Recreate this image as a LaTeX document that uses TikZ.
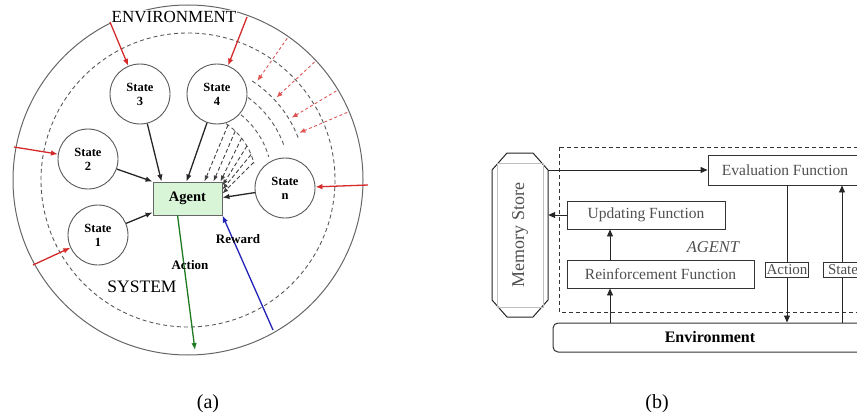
\documentclass[tikz,border=0pt]{standalone}
\usepackage{fontspec}
\setmainfont{Liberation Serif}
\usetikzlibrary{arrows.meta,calc}

\definecolor{envred}{HTML}{D42A2A}
\definecolor{actgreen}{HTML}{1E7A22}
\definecolor{rewblue}{HTML}{2222B8}
\definecolor{agentfill}{HTML}{D8F5D8}
\definecolor{boxtext}{HTML}{505050}

\tikzset{
  statenode/.style={circle, draw=black!65, line width=0.9pt, minimum size=60pt,
    inner sep=0pt, align=center, fill=white,
    font=\fontsize{12.5}{14}\selectfont\bfseries},
  agentbox/.style={draw=black!60, line width=0.9pt, fill=agentfill,
    minimum width=69pt, minimum height=33pt, inner sep=0pt,
    font=\fontsize{14.5}{16}\selectfont\bfseries},
  arr/.style={-{Latex[length=7pt,width=5.5pt]}, line width=1.3pt, black!85},
  redarr/.style={-{Latex[length=7pt,width=5.5pt]}, line width=1.3pt, envred},
  reddash/.style={-{Latex[length=6pt,width=5pt]}, line width=0.9pt, envred!80,
    dash pattern=on 3pt off 2.5pt},
  spoke/.style={-{Latex[length=6pt,width=4.5pt]}, line width=0.9pt, black!75,
    dash pattern=on 4pt off 2.5pt},
  ringdash/.style={line width=0.9pt, black!65, dash pattern=on 4pt off 3pt},
  lbl/.style={font=\fontsize{13}{15}\selectfont\bfseries, inner sep=0pt},
  fbox/.style={draw=black!80, line width=0.9pt, fill=white, inner sep=0pt,
    text=boxtext, font=\fontsize{15.5}{17}\selectfont},
  tagbox/.style={draw=black!80, line width=0.9pt, fill=white, inner sep=1pt,
    minimum height=15pt, text=boxtext, font=\fontsize{15}{16}\selectfont},
  barr/.style={-{Triangle[length=7pt,width=6pt]}, line width=0.9pt, black!85},
  caption/.style={font=\fontsize{20}{22}\selectfont, inner sep=0pt}
}

\begin{document}
\begin{tikzpicture}[x=1pt,y=-1pt]
\useasboundingbox (0,0) rectangle (857,420);
\clip (0,0) rectangle (857,420);

% ---------------- left: system inside its environment ----------------
\coordinate (O) at (188,180);
\draw[black!60, line width=1pt] (O) circle[radius=175];
\draw[ringdash] (O) circle[radius=147];

% partial rings between State 4 and State n
\draw[ringdash] ($(O)+(-57:118)$) arc[start angle=-57, end angle=-21, radius=118];
\draw[ringdash] ($(O)+(-54:102)$) arc[start angle=-54, end angle=-19, radius=102];
\draw[ringdash] ($(O)+(-51:84)$) arc[start angle=-51, end angle=-16, radius=84];
\draw[ringdash] ($(O)+(-56:68)$) arc[start angle=-56, end angle=-14, radius=68];

\node[font=\fontsize{17}{19}\selectfont, fill=white, inner sep=1pt] (envlabel) at (174,17) {ENVIRONMENT};
\node[font=\fontsize{17.5}{19}\selectfont, inner sep=0pt] (syslabel) at (142,287) {SYSTEM};

\node[statenode] (s3) at (140,94) {State\\3};
\node[statenode] (s4) at (217,94) {State\\4};
\node[statenode] (s2) at (88,159) {State\\2};
\node[statenode] (s1) at (98,235) {State\\1};
\node[statenode] (sn) at (285,188) {State\\n};
\node[agentbox] (agent) at (187.5,198.5) {Agent};

% states feeding the agent
\draw[arr] (s3) -- ([xshift=9pt]agent.north west);
\draw[arr] (s4) -- ([xshift=34pt]agent.north west);
\draw[arr] (s2) -- (agent.north west);
\draw[arr] (s1) -- ([yshift=3pt]agent.south west);
\draw[arr] (sn) -- ([yshift=-16pt]agent.north east);

% dashed fan of further states
\coordinate (f1) at ($(O)+(-54:68)$);
\coordinate (f2) at ($(O)+(-46:68)$);
\coordinate (f3) at ($(O)+(-38:68)$);
\coordinate (f4) at ($(O)+(-30:68)$);
\coordinate (f5) at ($(O)+(-22:68)$);
\coordinate (f6) at ($(O)+(-15:68)$);
\draw[spoke] (f1) -- ([xshift=-18pt]agent.north east);
\draw[spoke] (f2) -- ([xshift=-9pt]agent.north east);
\draw[spoke] (f3) -- ([xshift=-2pt]agent.north east);
\draw[spoke] (f4) -- ([yshift=-4pt]agent.north east);
\draw[spoke] (f5) -- ([yshift=-8pt]agent.north east);
\draw[spoke] (f6) -- ([yshift=-12pt]agent.north east);

% environment influences
\coordinate (e3) at (110,22);
\coordinate (e4) at (247,17);
\coordinate (e2) at (14,147);
\coordinate (e1) at (33,265);
\coordinate (en) at (368,185);
\draw[redarr] (e3) -- (s3);
\draw[redarr] (e4) -- (s4);
\draw[redarr] (e2) -- (s2);
\draw[redarr] (e1) -- (s1);
\draw[redarr] (en) -- (sn);
\foreach \a [count=\i] in {-55,-43,-31,-23}{
  \coordinate (ra\i) at ($(O)+(\a:173)$);
  \coordinate (rb\i) at ($(O)+(\a:121)$);
  \draw[reddash] (ra\i) -- (rb\i);
}

% action and reward
\coordinate (actend) at (195,350);
\coordinate (rewstart) at (273,330);
\draw[-{Latex[length=7pt,width=5.5pt]}, line width=1.3pt, actgreen]
  ([xshift=25pt]agent.south west) -- (actend);
\draw[-{Latex[length=7pt,width=5.5pt]}, line width=1.3pt, rewblue]
  (rewstart) -- (agent.south east);
\node[lbl] (actlabel) at (190,265) {Action};
\node[lbl] (rewlabel) at (238,239) {Reward};

% ---------------- right: agent architecture ----------------
\draw[black!80, line width=1pt, dash pattern=on 4pt off 3pt]
  (559,147) rectangle (890,312);

% memory store
\draw[black!85, line width=1pt, fill=white]
  (507,153) -- (533,153) -- (548,170) -- (548,300) -- (533,317)
  -- (507,317) -- (492,300) -- (492,170) -- cycle;
\draw[black!25, line width=0.7pt] (497,163) rectangle (543,307);
\node[minimum width=56pt, minimum height=164pt, inner sep=0pt] (mem) at (520,235) {};
\node[rotate=90, text=boxtext, font=\fontsize{18}{20}\selectfont] (memtext) at (520,235) {Memory Store};

\node[fbox, minimum width=154pt, minimum height=30pt] (eval) at (785,170) {Evaluation Function};
\node[fbox, minimum width=158pt, minimum height=28pt] (upd) at (646,215) {Updating Function};
\node[fbox, minimum width=187pt, minimum height=28pt] (reinf) at (660.5,274) {Reinforcement Function};
\node[draw=black!80, line width=1pt, rounded corners=5pt, fill=white,
  minimum width=314pt, minimum height=29pt, inner sep=0pt,
  font=\fontsize{16}{18}\selectfont\bfseries] (env) at (710,337.5) {Environment};
\node[font=\fontsize{16.5}{18}\selectfont\itshape, text=boxtext, inner sep=0pt] (agenttxt) at (713,247) {AGENT};

\coordinate (actx) at (787,0);
\coordinate (statex) at (842,0);
\coordinate (rx) at (610,0);
\draw[barr] (mem.east |- eval.west) -- (eval.west);
\draw[barr] (upd.west) -- (mem.east |- upd.west);
\draw[barr] (reinf.north -| rx) -- (upd.south -| rx);
\draw[barr] (env.north -| rx) -- (reinf.south -| rx);
\draw[barr] (eval.south -| actx) -- (env.north -| actx);
\draw[barr] (env.north -| statex) -- (eval.south -| statex);

\node[tagbox] (acttag) at (787,269.5) {Action};
\node[tagbox, minimum width=40pt] (statetag) at (843,269.5) {State};

% captions
\node[caption] (capa) at (208,404) {(a)};
\node[caption] (capb) at (657,404) {(b)};
\end{tikzpicture}
\end{document}
